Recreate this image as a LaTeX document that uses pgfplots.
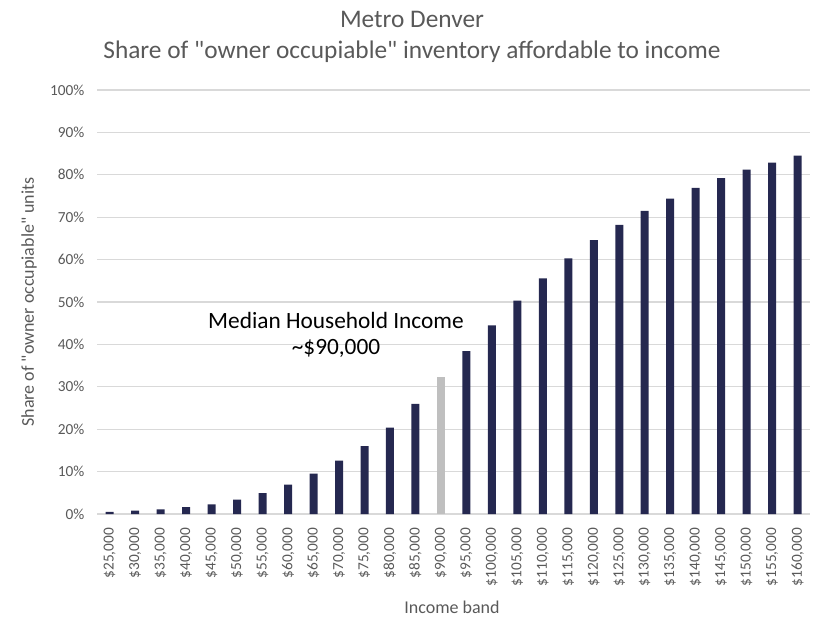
\documentclass[border=0pt]{standalone}
\usepackage{pgfplots}
\pgfplotsset{compat=1.18}
\usepackage{pgfplotstable}
\usepackage{fontspec}
\setmainfont{Carlito}
\definecolor{navy}{HTML}{252850}
\definecolor{medgrey}{HTML}{BFBFBF}
\definecolor{gridgrey}{HTML}{D9D9D9}
\definecolor{labelgrey}{HTML}{595959}

% share of units affordable, by income band (index 13 = $90,000 drawn separately)
\pgfplotstableread{
idx val
0 0.5
1 0.8
2 1.1
3 1.6
4 2.3
5 3.4
6 4.9
7 6.9
8 9.5
9 12.6
10 16.0
11 20.4
12 26.0
14 38.4
15 44.5
16 50.3
17 55.6
18 60.3
19 64.6
20 68.2
21 71.5
22 74.4
23 76.9
24 79.2
25 81.2
26 82.9
27 84.5
}\sharedata

\begin{document}
\begin{tikzpicture}
\begin{scope}[x=0.75pt, y=-0.75pt, shift={(-72.75pt,385.5pt)}]
\path[use as bounding box] (0,0) rectangle (816,618);
\end{scope}
\begin{axis}[
    at={(0,0)}, anchor=south west,
    scale only axis,
    width=535pt, height=318pt,
    xmin=-0.5, xmax=27.5,
    ymin=0, ymax=100,
    axis line style={draw=none},
    ytick={0,10,...,100},
    yticklabels={0\%,10\%,20\%,30\%,40\%,50\%,60\%,70\%,80\%,90\%,100\%},
    xtick={0,...,27},
    xticklabels={{\$25,000},{\$30,000},{\$35,000},{\$40,000},{\$45,000},{\$50,000},{\$55,000},{\$60,000},{\$65,000},{\$70,000},{\$75,000},{\$80,000},{\$85,000},{\$90,000},{\$95,000},{\$100,000},{\$105,000},{\$110,000},{\$115,000},{\$120,000},{\$125,000},{\$130,000},{\$135,000},{\$140,000},{\$145,000},{\$150,000},{\$155,000},{\$160,000}},
    x tick label style={rotate=90, anchor=east, font=\fontsize{11.5}{13}\selectfont, text=labelgrey},
    y tick label style={font=\fontsize{11.5}{13}\selectfont, text=labelgrey},
    xticklabel shift=7pt,
    yticklabel shift=6pt,
    major tick length=0pt,
    ymajorgrids,
    grid style={gridgrey, line width=0.8pt},
    ybar, bar width=6pt, bar shift=0pt,
]
\addplot[fill=navy, draw=none] table[x=idx, y=val] {\sharedata};
\addplot[fill=medgrey, draw=none] coordinates {(13,32.3)};
\end{axis}
\begin{scope}[x=0.75pt, y=-0.75pt, shift={(-72.75pt,385.5pt)}]
\node[text=labelgrey, font=\fontsize{19}{22}\selectfont] at (412,19) {Metro Denver};
\node[text=labelgrey, font=\fontsize{19}{22}\selectfont] at (412,52) {Share of \textquotedbl owner occupiable\textquotedbl{} inventory affordable to income};
\node[text=labelgrey, font=\fontsize{13.5}{15}\selectfont] at (452,607) {Income band};
\node[text=labelgrey, font=\fontsize{13.5}{15}\selectfont, rotate=90] at (29,302) {Share of \textquotedbl owner occupiable\textquotedbl{} units};
\node[text=black, font=\fontsize{17.5}{19.5}\selectfont, align=center] at (336,335) {Median Household Income\\\textasciitilde\$90,000};
\end{scope}
\end{tikzpicture}
\end{document}
